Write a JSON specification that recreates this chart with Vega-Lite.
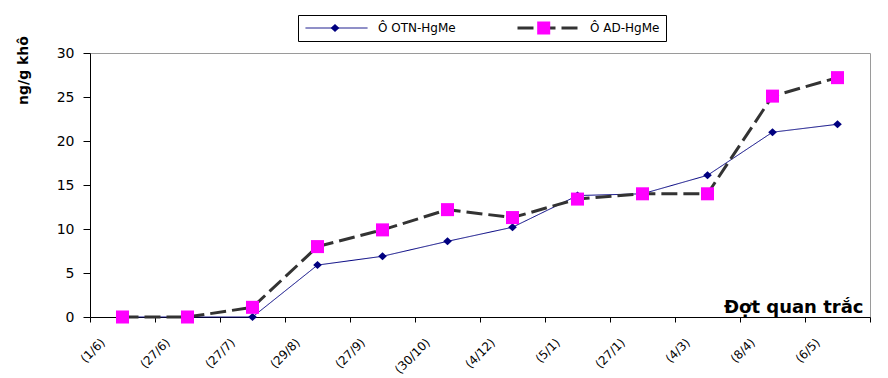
{
  "$schema": "https://vega.github.io/schema/vega-lite/v6.json",
  "width": 780,
  "height": 264,
  "autosize": "none",
  "padding": {"left": 90, "top": 53, "right": 18, "bottom": 61},
  "background": "white",
  "config": {
    "view": {"stroke": "#9a9a9a", "strokeWidth": 1},
    "font": "DejaVu Sans"
  },
  "data": {
    "values": [
      {"dot": "(1/6)", "series": "Ô OTN-HgMe", "value": 0},
      {"dot": "(27/6)", "series": "Ô OTN-HgMe", "value": 0},
      {"dot": "(27/7)", "series": "Ô OTN-HgMe", "value": 0},
      {"dot": "(29/8)", "series": "Ô OTN-HgMe", "value": 5.9},
      {"dot": "(27/9)", "series": "Ô OTN-HgMe", "value": 6.9},
      {"dot": "(30/10)", "series": "Ô OTN-HgMe", "value": 8.6},
      {"dot": "(4/12)", "series": "Ô OTN-HgMe", "value": 10.2},
      {"dot": "(5/1)", "series": "Ô OTN-HgMe", "value": 13.8},
      {"dot": "(27/1)", "series": "Ô OTN-HgMe", "value": 14.0},
      {"dot": "(4/3)", "series": "Ô OTN-HgMe", "value": 16.1},
      {"dot": "(8/4)", "series": "Ô OTN-HgMe", "value": 21.0},
      {"dot": "(6/5)", "series": "Ô OTN-HgMe", "value": 21.9},
      {"dot": "(1/6)", "series": "Ô AD-HgMe", "value": 0},
      {"dot": "(27/6)", "series": "Ô AD-HgMe", "value": 0},
      {"dot": "(27/7)", "series": "Ô AD-HgMe", "value": 1.1},
      {"dot": "(29/8)", "series": "Ô AD-HgMe", "value": 8.0},
      {"dot": "(27/9)", "series": "Ô AD-HgMe", "value": 9.9},
      {"dot": "(30/10)", "series": "Ô AD-HgMe", "value": 12.2},
      {"dot": "(4/12)", "series": "Ô AD-HgMe", "value": 11.3},
      {"dot": "(5/1)", "series": "Ô AD-HgMe", "value": 13.4},
      {"dot": "(27/1)", "series": "Ô AD-HgMe", "value": 14.0},
      {"dot": "(4/3)", "series": "Ô AD-HgMe", "value": 14.0},
      {"dot": "(8/4)", "series": "Ô AD-HgMe", "value": 25.1},
      {"dot": "(6/5)", "series": "Ô AD-HgMe", "value": 27.2}
    ]
  },
  "encoding": {
    "x": {
      "field": "dot",
      "type": "ordinal",
      "sort": ["(1/6)", "(27/6)", "(27/7)", "(29/8)", "(27/9)", "(30/10)", "(4/12)", "(5/1)", "(27/1)", "(4/3)", "(8/4)", "(6/5)"],
      "scale": {"paddingInner": 0, "paddingOuter": 0},
      "axis": {
        "title": "Đợt quan trắc",
        "titleFont": "DejaVu Sans",
        "titleFontWeight": "bold",
        "titleFontSize": 18,
        "titleColor": "black",
        "titleX": 773,
        "titleY": -5,
        "titleAlign": "right",
        "titleBaseline": "alphabetic",
        "titleAngle": 0,
        "labelAngle": -45,
        "labelAlign": "right",
        "labelBaseline": "middle",
        "labelPadding": 18,
        "labelOffset": -20,
        "labelFont": "DejaVu Sans",
        "labelFontSize": 12,
        "labelColor": "black",
        "labelOverlap": false,
        "tickBand": "extent",
        "tickSize": 5,
        "tickColor": "black",
        "domainColor": "black",
        "grid": false
      }
    },
    "y": {
      "field": "value",
      "type": "quantitative",
      "scale": {"domain": [0, 30], "nice": false},
      "axis": {
        "values": [0, 5, 10, 15, 20, 25, 30],
        "title": "ng/g khô",
        "titleFont": "DejaVu Sans",
        "titleFontWeight": "bold",
        "titleFontSize": 14,
        "titleColor": "black",
        "titleAngle": -90,
        "titleX": -67,
        "titleY": 17,
        "titleAlign": "center",
        "titleBaseline": "middle",
        "grid": false,
        "domainColor": "black",
        "tickColor": "black",
        "tickSize": 7,
        "labelFont": "DejaVu Sans",
        "labelFontSize": 14,
        "labelColor": "black",
        "labelPadding": 9
      }
    }
  },
  "layer": [
    {
      "mark": {"type": "line"},
      "encoding": {
        "stroke": {
          "field": "series",
          "type": "nominal",
          "scale": {"domain": ["Ô OTN-HgMe", "Ô AD-HgMe"], "range": ["#000080", "#333333"]},
          "legend": {
            "title": null,
            "orient": "none",
            "legendX": 208,
            "legendY": -38,
            "direction": "horizontal",
            "columns": 2,
            "symbolType": "stroke",
            "symbolSize": 3844,
            "clipHeight": 14,
            "padding": 6,
            "strokeColor": "black",
            "labelFont": "DejaVu Sans",
            "labelFontSize": 12,
            "labelColor": "black",
            "labelOffset": 9,
            "columnPadding": 60
          }
        },
        "strokeWidth": {
          "field": "series",
          "type": "nominal",
          "scale": {"domain": ["Ô OTN-HgMe", "Ô AD-HgMe"], "range": [1, 3]},
          "legend": {
            "title": null,
            "orient": "none",
            "legendX": 208,
            "legendY": -38,
            "direction": "horizontal",
            "columns": 2,
            "symbolType": "stroke",
            "symbolSize": 3844,
            "clipHeight": 14,
            "padding": 6,
            "strokeColor": "black",
            "labelFont": "DejaVu Sans",
            "labelFontSize": 12,
            "labelColor": "black",
            "labelOffset": 9,
            "columnPadding": 60
          }
        },
        "strokeDash": {
          "field": "series",
          "type": "nominal",
          "scale": {"domain": ["Ô OTN-HgMe", "Ô AD-HgMe"], "range": [[1, 0], [16, 6]]},
          "legend": null
        }
      }
    },
    {
      "mark": {"type": "point", "filled": true, "opacity": 1, "size": 3844, "strokeWidth": 0},
      "encoding": {
        "fill": {
          "field": "series",
          "type": "nominal",
          "sort": ["Ô OTN-HgMe", "Ô AD-HgMe"],
          "scale": {"range": ["#000080", "#FF00FF"]},
          "legend": {
            "title": null,
            "orient": "none",
            "legendX": 208,
            "legendY": -38,
            "direction": "horizontal",
            "columns": 2,
            "symbolType": {"expr": "datum.value === 'Ô OTN-HgMe' ? 'M0,-0.13L0.14,0L0,0.13L-0.14,0Z' : 'M-0.21,-0.21H0.21V0.21H-0.21Z'"},
            "symbolSize": 3844,
            "symbolStrokeWidth": 0,
            "clipHeight": 14,
            "padding": 6,
            "labelFont": "DejaVu Sans",
            "labelFontSize": 12,
            "labelExpr": "''",
            "labelOffset": 9,
            "columnPadding": 137.7
          }
        },
        "shape": {
          "field": "series",
          "type": "nominal",
          "sort": ["Ô OTN-HgMe", "Ô AD-HgMe"],
          "scale": {"range": ["M0,-0.13L0.14,0L0,0.13L-0.14,0Z", "M-0.21,-0.21H0.21V0.21H-0.21Z"]},
          "legend": null
        }
      }
    }
  ]
}
